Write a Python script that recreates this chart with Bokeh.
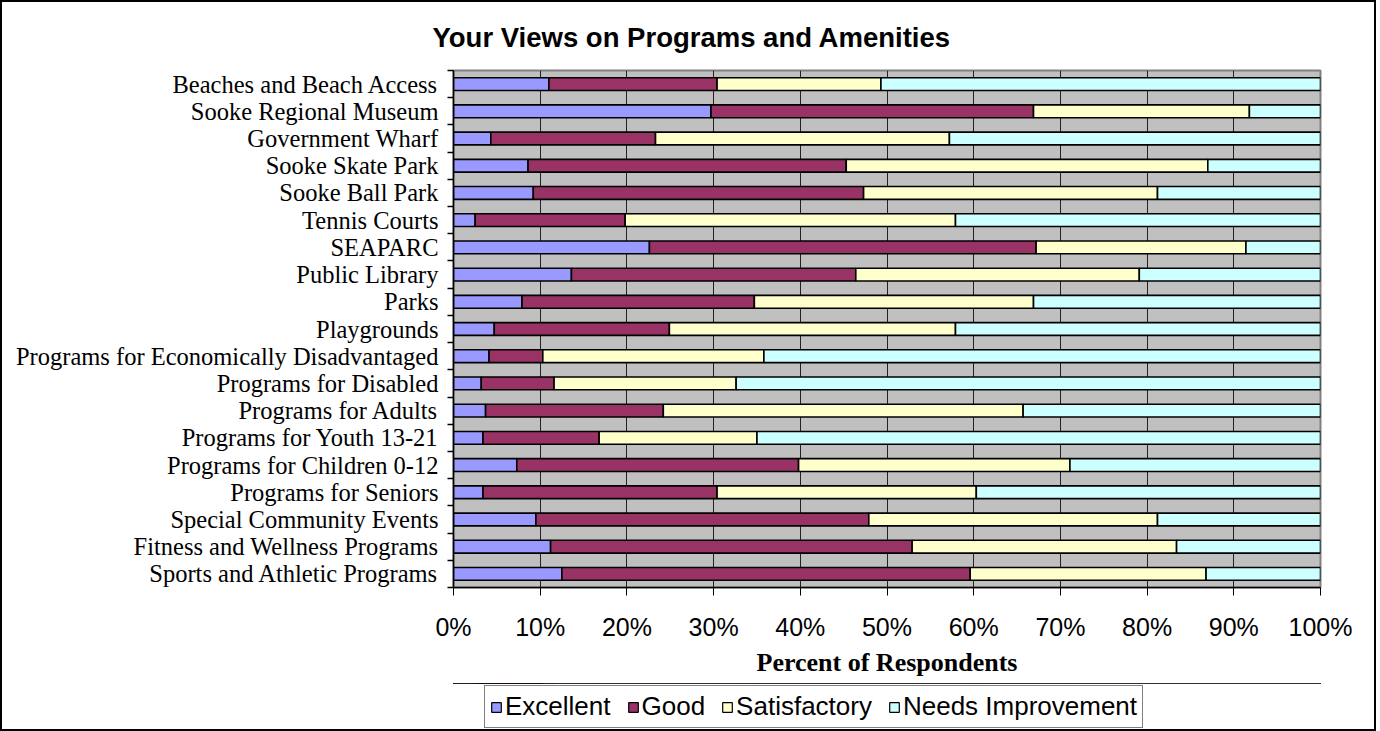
from bokeh.plotting import figure
from bokeh.layouts import column
from bokeh.models import (ColumnDataSource, Range1d, LinearAxis,
                          FixedTicker, PrintfTickFormatter, Legend, Title)
from bokeh.embed import file_html
from bokeh.resources import INLINE

categories = [
    "Beaches and Beach Access", "Sooke Regional Museum", "Government Wharf", "Sooke Skate Park",
    "Sooke Ball Park", "Tennis Courts", "SEAPARC", "Public Library", "Parks", "Playgrounds",
    "Programs for Economically Disadvantaged", "Programs for Disabled", "Programs for Adults",
    "Programs for Youth 13-21", "Programs for Children 0-12", "Programs for Seniors",
    "Special Community Events", "Fitness and Wellness Programs", "Sports and Athletic Programs",
]
series = ["Excellent", "Good", "Satisfactory", "Needs Improvement"]
excellent = [11.0, 29.7, 4.3, 8.6, 9.2, 2.5, 22.6, 13.6, 7.9, 4.7, 4.1, 3.2, 3.7, 3.4, 7.3, 3.4, 9.5, 11.2, 12.5]
good = [19.4, 37.2, 19.0, 36.7, 38.1, 17.3, 44.6, 32.8, 26.8, 20.2, 6.2, 8.4, 20.5, 13.4, 32.5, 27.0, 38.4, 41.7, 47.1]
satisfactory = [18.9, 24.9, 33.9, 41.7, 33.9, 38.1, 24.2, 32.7, 32.2, 33.0, 25.5, 21.0, 41.5, 18.2, 31.3, 29.9, 33.3, 30.5, 27.2]
needs = [50.7, 8.2, 42.8, 13.0, 18.8, 42.1, 8.6, 20.9, 33.1, 42.1, 64.2, 67.4, 34.3, 65.0, 28.9, 39.7, 18.8, 16.6, 13.2]
colors = ["#9999FF", "#993366", "#FFFFCC", "#CCFFFF"]
x_ticks = [0, 10, 20, 30, 40, 50, 60, 70, 80, 90, 100]

n = len(categories)
ypos = [n - 0.5 - i for i in range(n)]  # first category at the top

source = ColumnDataSource(data={
    "y": ypos,
    "cat": categories,
    "Excellent": excellent,
    "Good": good,
    "Satisfactory": satisfactory,
    "Needs Improvement": needs,
})

W = 1372
p = figure(width=W, height=681, output_backend="svg", toolbar_location=None,
           y_range=Range1d(0, n), x_range=Range1d(0, 100),
           y_axis_location=None, x_axis_location=None,
           min_border_left=451, min_border_right=54, min_border_top=68, min_border_bottom=96)
p.background_fill_color = "#C0C0C0"
p.border_fill_color = "white"
p.outline_line_color = "#808080"
p.outline_line_width = 2

renderers = p.hbar_stack(series, y="y", height=0.47, color=colors, source=source,
                         line_color="black", line_width=1.6)

# grid
p.ygrid.visible = False
p.xgrid.ticker = FixedTicker(ticks=x_ticks)
p.xgrid.grid_line_color = "#222222"
p.xgrid.grid_line_width = 1

# x axis
xaxis = LinearAxis(ticker=FixedTicker(ticks=x_ticks), formatter=PrintfTickFormatter(format="%d%%"),
                   axis_label="Percent of Respondents")
xaxis.axis_line_color = "black"
xaxis.axis_line_width = 1.5
xaxis.major_tick_out = 8
xaxis.major_tick_in = 0
xaxis.minor_tick_line_color = None
xaxis.major_label_text_font = "Liberation Sans"
xaxis.major_label_text_font_size = "25px"
xaxis.major_label_text_color = "black"
xaxis.major_label_standoff = 17
xaxis.axis_label_text_font = "Liberation Serif"
xaxis.axis_label_text_font_style = "bold"
xaxis.axis_label_text_font_size = "26px"
xaxis.axis_label_text_color = "black"
xaxis.axis_label_standoff = 4
p.add_layout(xaxis, "below")

# y axis: labels at bar centres, small ticks at category boundaries
yaxis = LinearAxis(ticker=FixedTicker(ticks=ypos, minor_ticks=list(range(n + 1))))
yaxis.major_label_overrides = {y: c for y, c in zip(ypos, categories)}
yaxis.axis_line_color = "black"
yaxis.axis_line_width = 1.5
yaxis.major_tick_line_color = None
yaxis.major_tick_out = 6
yaxis.major_tick_in = 0
yaxis.minor_tick_line_color = "black"
yaxis.minor_tick_line_width = 1.5
yaxis.minor_tick_out = 6
yaxis.minor_tick_in = 0
yaxis.major_label_text_font = "Liberation Serif"
yaxis.major_label_text_font_size = "24.5px"
yaxis.major_label_text_color = "black"
yaxis.major_label_standoff = 9
p.add_layout(yaxis, "left")

p.title = Title(text="Your Views on Programs and Amenities", align="left", offset=-21,
                text_font="Liberation Sans", text_font_style="bold", text_font_size="27.5px",
                text_color="black", standoff=35)

# legend strip below the chart: same stacked series, drawn outside its visible range,
# so that only the legend shows
pl = figure(width=W, height=46, output_backend="svg", toolbar_location=None,
            x_range=Range1d(0, 100), y_range=Range1d(-20, -19),
            x_axis_location=None, y_axis_location=None, min_border=0)
pl.grid.visible = False
pl.outline_line_color = None
pl.background_fill_color = "white"
pl.border_fill_color = "white"
leg_renderers = pl.hbar_stack(series, y="y", height=0.47, color=colors, source=source,
                              line_color="black", line_width=1.2)
legend = Legend(items=[(s, [r]) for s, r in zip(series, leg_renderers)], orientation="horizontal",
                location=(31, 1))
legend.label_text_font = "Liberation Sans"
legend.label_text_font_size = "26px"
legend.label_text_color = "black"
legend.glyph_width = 12
legend.glyph_height = 12
legend.label_standoff = 3
legend.spacing = 16
legend.padding = 5
legend.margin = 0
legend.border_line_color = "black"
legend.border_line_width = 1
pl.add_layout(legend, "center")

layout = column(p, pl, spacing=0, styles={"border": "2px solid black"})

open("out.html", "w").write(file_html(layout, INLINE))
